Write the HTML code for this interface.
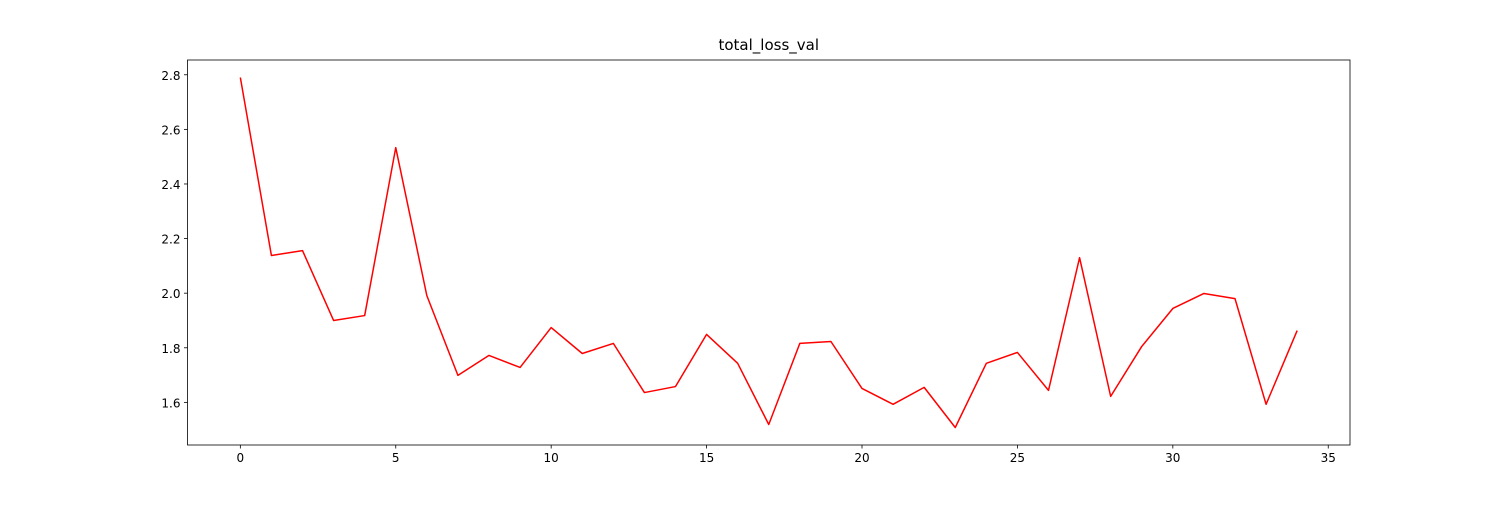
<!DOCTYPE html>
<html>
<head>
<meta charset="utf-8">
<style>
  html, body { margin: 0; padding: 0; background: #fff; }
  svg text { font-family: "DejaVu Sans", "Liberation Sans", sans-serif; }
</style>
</head>
<body>
<svg id="chart" width="1500" height="500" xmlns="http://www.w3.org/2000/svg"></svg>
<script>
const epochs = [0,1,2,3,4,5,6,7,8,9,10,11,12,13,14,15,16,17,18,19,20,21,22,23,24,25,26,27,28,29,30,31,32,33,34];
const lossValues = [2.79,2.138,2.156,1.90,1.918,2.533,1.991,1.699,1.772,1.728,1.874,1.779,1.816,1.636,1.658,1.849,1.743,1.519,1.816,1.823,1.651,1.593,1.655,1.508,1.743,1.783,1.644,2.130,1.622,1.805,1.944,1.999,1.980,1.593,1.863];
const xTicks = [0,5,10,15,20,25,30,35];
const yTicks = [1.6,1.8,2.0,2.2,2.4,2.6,2.8];

const NS = "http://www.w3.org/2000/svg";
const svg = document.getElementById('chart');
const L = 187.5, R = 1350, T = 60, B = 445;
const xmin = -1.7, xmax = 35.7;
const lo = Math.min(...lossValues), hi = Math.max(...lossValues), pad = (hi - lo) * 0.05;
const ymin = lo - pad, ymax = hi + pad;
const xs = v => L + (v - xmin) / (xmax - xmin) * (R - L);
const ys = v => B - (v - ymin) / (ymax - ymin) * (B - T);

function mk(tag, attrs) {
  const e = document.createElementNS(NS, tag);
  for (const k in attrs) e.setAttribute(k, attrs[k]);
  svg.appendChild(e);
  return e;
}

const title = mk('text', {x: (L + R) / 2, y: 50, 'text-anchor': 'middle', 'font-size': 15, fill: '#000'});
title.textContent = 'total_loss_val';



xTicks.forEach(t => {
  const x = xs(t);
  const tick = mk('line', {x1: x, x2: x, y1: B, y2: B + 3.5, stroke: '#000', 'stroke-width': 0.8});
  
  
  const lab = mk('text', {x: x, y: B + 17, 'text-anchor': 'middle', 'font-size': 12, fill: '#000'});
  lab.textContent = t;
  
  
});
yTicks.forEach(t => {
  const y = ys(t);
  const tick = mk('line', {x1: L - 3.5, x2: L, y1: y, y2: y, stroke: '#000', 'stroke-width': 0.8});
  
  
  const lab = mk('text', {x: L - 7, y: y + 5, 'text-anchor': 'end', 'font-size': 12, fill: '#000'});
  lab.textContent = t.toFixed(1);
  
  
});

const pts = epochs.map((e, i) => xs(e).toFixed(2) + ',' + ys(lossValues[i]).toFixed(2)).join(' ');
const line = mk('polyline', {points: pts, fill: 'none', stroke: '#ff0000', 'stroke-width': 1.5, 'stroke-linejoin': 'round'});



const frame = mk('rect', {x: L, y: T, width: R - L, height: B - T, fill: 'none', stroke: '#000', 'stroke-width': 0.8});


</script>
</body>
</html>
